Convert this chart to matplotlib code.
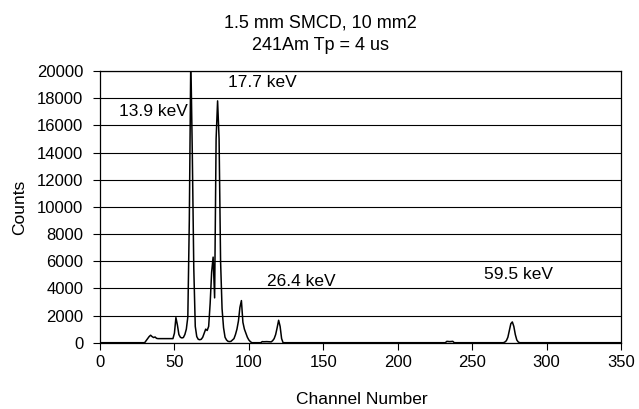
import matplotlib
matplotlib.use("Agg")
import matplotlib.pyplot as plt

plt.rcParams['font.family'] = ['Liberation Sans', 'DejaVu Sans']

# spectrum (channel, counts)
channels = [0, 30, 31, 32, 33, 34, 35, 36, 37, 38, 39, 49, 50, 51, 52, 53, 54, 55, 56, 57,
            58, 59, 60, 61, 62, 63, 64, 65, 66, 67, 68, 69, 70, 71, 72, 73, 74, 75, 76, 77,
            78, 79, 80, 81, 82, 83, 84, 85, 86, 87, 88, 89, 90, 91, 92, 93, 94, 95, 96, 97,
            98, 99, 100, 101, 102, 108, 109, 110, 112, 115, 116, 117, 118, 119, 120, 121, 122, 123,
            232, 233, 235, 237, 238,
            271, 272, 273, 274, 275, 276, 277, 278, 279, 280, 281, 282, 350]
counts = [0, 0, 150, 300, 450, 550, 450, 380, 420, 320, 300, 300, 700, 1850, 1300, 600, 400, 350, 380, 600,
          1000, 1900, 9000, 21000, 14000, 5500, 1200, 450, 250, 220, 250, 400, 700, 1000, 900, 1200, 2900, 5200, 6300, 3300,
          15000, 17800, 15000, 6000, 2500, 1100, 400, 200, 100, 80, 100, 200, 300, 600, 1000, 1600, 2600, 3100, 1500, 1000,
          700, 400, 200, 80, 0, 0, 80, 70, 80, 60, 150, 300, 600, 1100, 1650, 1200, 300, 0,
          0, 100, 80, 100, 0,
          0, 50, 150, 400, 900, 1400, 1530, 1200, 600, 200, 50, 0, 0]

peak_labels = ["13.9 keV", "17.7 keV", "26.4 keV", "59.5 keV"]
label_x = [13, 86, 112, 258]
label_y = [17000, 19150, 4500, 5050]

fig = plt.figure(figsize=(6.39, 4.09), dpi=100)
ax = fig.add_axes([100 / 639, 1 - 342.7 / 409, 521 / 639, 271.7 / 409])

ax.plot(channels, counts, color='black', linewidth=1.1)

ax.set_xlim(0, 350)
ax.set_ylim(0, 20000)
ax.set_xticks(range(0, 351, 50))
ax.set_yticks(range(0, 20001, 2000))
ax.grid(axis='y', color='black', linewidth=0.8)
ax.tick_params(direction='out', length=5, width=0.8, labelsize=12, color='black')
ax.tick_params(axis='x', pad=4)
ax.tick_params(axis='y', pad=7)
for s in ax.spines.values():
    s.set_linewidth(0.9)

for txt, x, y in zip(peak_labels, label_x, label_y):
    ax.text(x, y, txt, fontsize=12.5, ha='left', va='center')

fig.text(0.501, 1 - 23.3 / 409, "1.5 mm SMCD, 10 mm2", fontsize=13, ha='center', va='center')
fig.text(0.501, 1 - 45 / 409, "241Am Tp = 4 us", fontsize=13, ha='center', va='center')
fig.text(20 / 639, 1 - 207 / 409, "Counts", fontsize=12.5, rotation=90, ha='center', va='center')
fig.text(362 / 639, 1 - 400 / 409, "Channel Number", fontsize=12.5, ha='center', va='center')

fig.savefig("out.png", dpi=100)
